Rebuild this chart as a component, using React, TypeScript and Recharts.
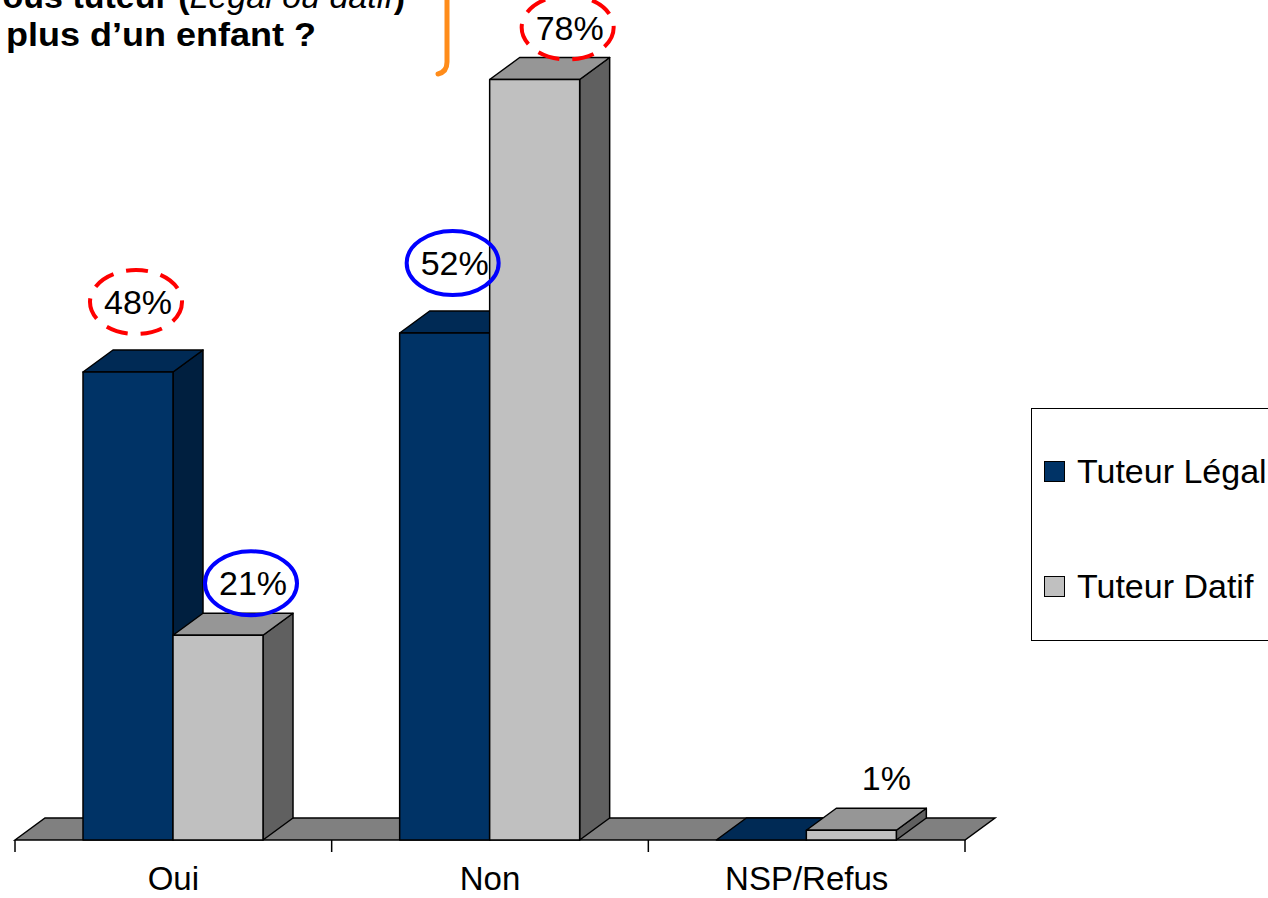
import { Bar, BarChart, CartesianGrid, LabelList, Legend, XAxis, YAxis } from "recharts";

const categories = ["Oui", "Non", "NSP/Refus"];
const tuteurLegal = [48, 52, 0];
const tuteurDatif = [21, 78, 1];
const seriesNames = ["Tuteur Légal", "Tuteur Datif"];

const data = categories.map((name, i) => ({ name, legal: tuteurLegal[i], datif: tuteurDatif[i] }));

// ovals hand-drawn around some of the labels on the slide
const legalRings = ["dashed", "solid", null];
const datifRings = ["solid", "dashed", null];

const FONT = "'Liberation Sans', Arial, Helvetica, sans-serif";
const DX = 30;
const DY = -22;

const legalColors = { front: "#003366", top: "#002a55", side: "#001f3f" };
const datifColors = { front: "#c0c0c0", top: "#969696", side: "#606060" };

function box3d(c: { front: string; top: string; side: string }) {
  return (p: any) => {
    const { x, y, width: w } = p;
    const h = Math.max(0, p.height || 0);
    return (
      <g stroke="#000" strokeWidth={1.5} strokeLinejoin="round">
        <polygon
          points={`${x + w},${y} ${x + w + DX},${y + DY} ${x + w + DX},${y + h + DY} ${x + w},${y + h}`}
          fill={c.side}
        />
        <polygon points={`${x},${y} ${x + DX},${y + DY} ${x + w + DX},${y + DY} ${x + w},${y}`} fill={c.top} />
        <rect x={x} y={y} width={w} height={h} fill={c.front} />
      </g>
    );
  };
}

// the floor of the 3D plot, drawn from the grid line at 0 only
const floor = (p: any) => {
  if (Math.abs(p.y1 - (p.y + p.height)) > 1) return <g key={`skip-${p.index}`} />;
  return (
    <polygon
      key={`floor-${p.index}`}
      points={`${p.x1},${p.y1} ${p.x1 + DX},${p.y1 + DY} ${p.x2 + DX},${p.y1 + DY} ${p.x2},${p.y1}`}
      fill="#808080"
      stroke="#000"
      strokeWidth={1.5}
    />
  );
};

function CategoryTick(p: any) {
  const { x, y, payload, index, visibleTicksCount } = p;
  const half = payload.offset || 158;
  return (
    <g>
      <line x1={x - half} y1={y} x2={x - half} y2={y + 12} stroke="#000" strokeWidth={1.5} />
      {index === visibleTicksCount - 1 && (
        <line x1={x + half} y1={y} x2={x + half} y2={y + 12} stroke="#000" strokeWidth={1.5} />
      )}
      <text x={x} y={y + 50} textAnchor="middle" fontSize={33} fontFamily={FONT} fill="#000">
        {payload.value}
      </text>
    </g>
  );
}

function ringLabel(rings: (string | null)[], offX: number, offY: number) {
  return (p: any) => {
    const vb = p.viewBox || p;
    const { value, index } = p;
    if (!value) return null;
    const cx = vb.x + offX;
    const cy = vb.y - offY;
    const ring = rings[index];
    return (
      <g>
        {ring && (
          <ellipse
            cx={cx - 2}
            cy={cy}
            rx={46}
            ry={32}
            fill="none"
            stroke={ring === "dashed" ? "#ff0000" : "#0000ff"}
            strokeWidth={4}
            strokeDasharray={ring === "dashed" ? "22 13" : undefined}
          />
        )}
        <text x={cx} y={cy} dy="0.36em" textAnchor="middle" fontSize={34} fontFamily={FONT} fill="#000">
          {value}%
        </text>
      </g>
    );
  };
}

function LegendBox() {
  const swatches = [legalColors.front, datifColors.front];
  return (
    <div
      style={{
        position: "relative",
        width: 270,
        height: 233,
        border: "1.5px solid #000",
        boxSizing: "border-box",
        background: "#fff",
        fontFamily: FONT,
        fontSize: 34,
        color: "#000",
      }}
    >
      {seriesNames.map((name, i) => (
        <div
          key={name}
          style={{ position: "absolute", left: 12, top: 42 + i * 115, height: 40, display: "flex", alignItems: "center", whiteSpace: "nowrap" }}
        >
          <span style={{ width: 19, height: 19, background: swatches[i], border: "1.5px solid #000", marginRight: 12 }} />
          {name}
        </div>
      ))}
    </div>
  );
}

export default function App() {
  return (
    <div style={{ position: "absolute", left: 0, top: 0, width: 1268, height: 898, overflow: "hidden", background: "#fff", fontFamily: FONT }}>
      <BarChart width={1268} height={898} data={data} margin={{ top: 60, right: 303, bottom: 0, left: 15 }} barGap={0} barSize={90}>
        <CartesianGrid horizontal={floor} vertical={false} />
        <YAxis hide domain={[0, 80]} ticks={[0]} />
        <XAxis dataKey="name" height={58} axisLine={false} tickLine={false} tickSize={0} tickMargin={0} tick={<CategoryTick />} interval={0} />
        <Legend layout="horizontal" align="center" verticalAlign="middle" content={<LegendBox />} wrapperStyle={{ left: 1031, top: 408, width: 270, height: 233 }} />
        <Bar dataKey="legal" name={seriesNames[0]} fill={legalColors.front} shape={box3d(legalColors)} isAnimationActive={false}>
          <LabelList dataKey="legal" content={ringLabel(legalRings, 55, 70)} />
        </Bar>
        <Bar dataKey="datif" name={seriesNames[1]} fill={datifColors.front} shape={box3d(datifColors)} isAnimationActive={false}>
          <LabelList dataKey="datif" content={ringLabel(datifRings, 80, 52)} />
        </Bar>
      </BarChart>
      <svg width={500} height={100} style={{ position: "absolute", left: 0, top: 0 }}>
        <text x={405} y={8} textAnchor="end" fontSize={34} fontFamily={FONT} fill="#000">
          <tspan fontWeight="bold">Êtes-vous tuteur (</tspan>
          <tspan fontStyle="italic">Légal ou datif</tspan>
          <tspan fontWeight="bold">)</tspan>
        </text>
        <text x={6} y={46} fontSize={34} fontWeight="bold" fontFamily={FONT} fill="#000" textLength={310} lengthAdjust="spacingAndGlyphs">
          plus d’un enfant ?
        </text>
        <path d="M 447 0 L 447 62 Q 447 72 438 74" fill="none" stroke="#ff8c1a" strokeWidth={5} strokeLinecap="round" />
      </svg>
    </div>
  );
}
